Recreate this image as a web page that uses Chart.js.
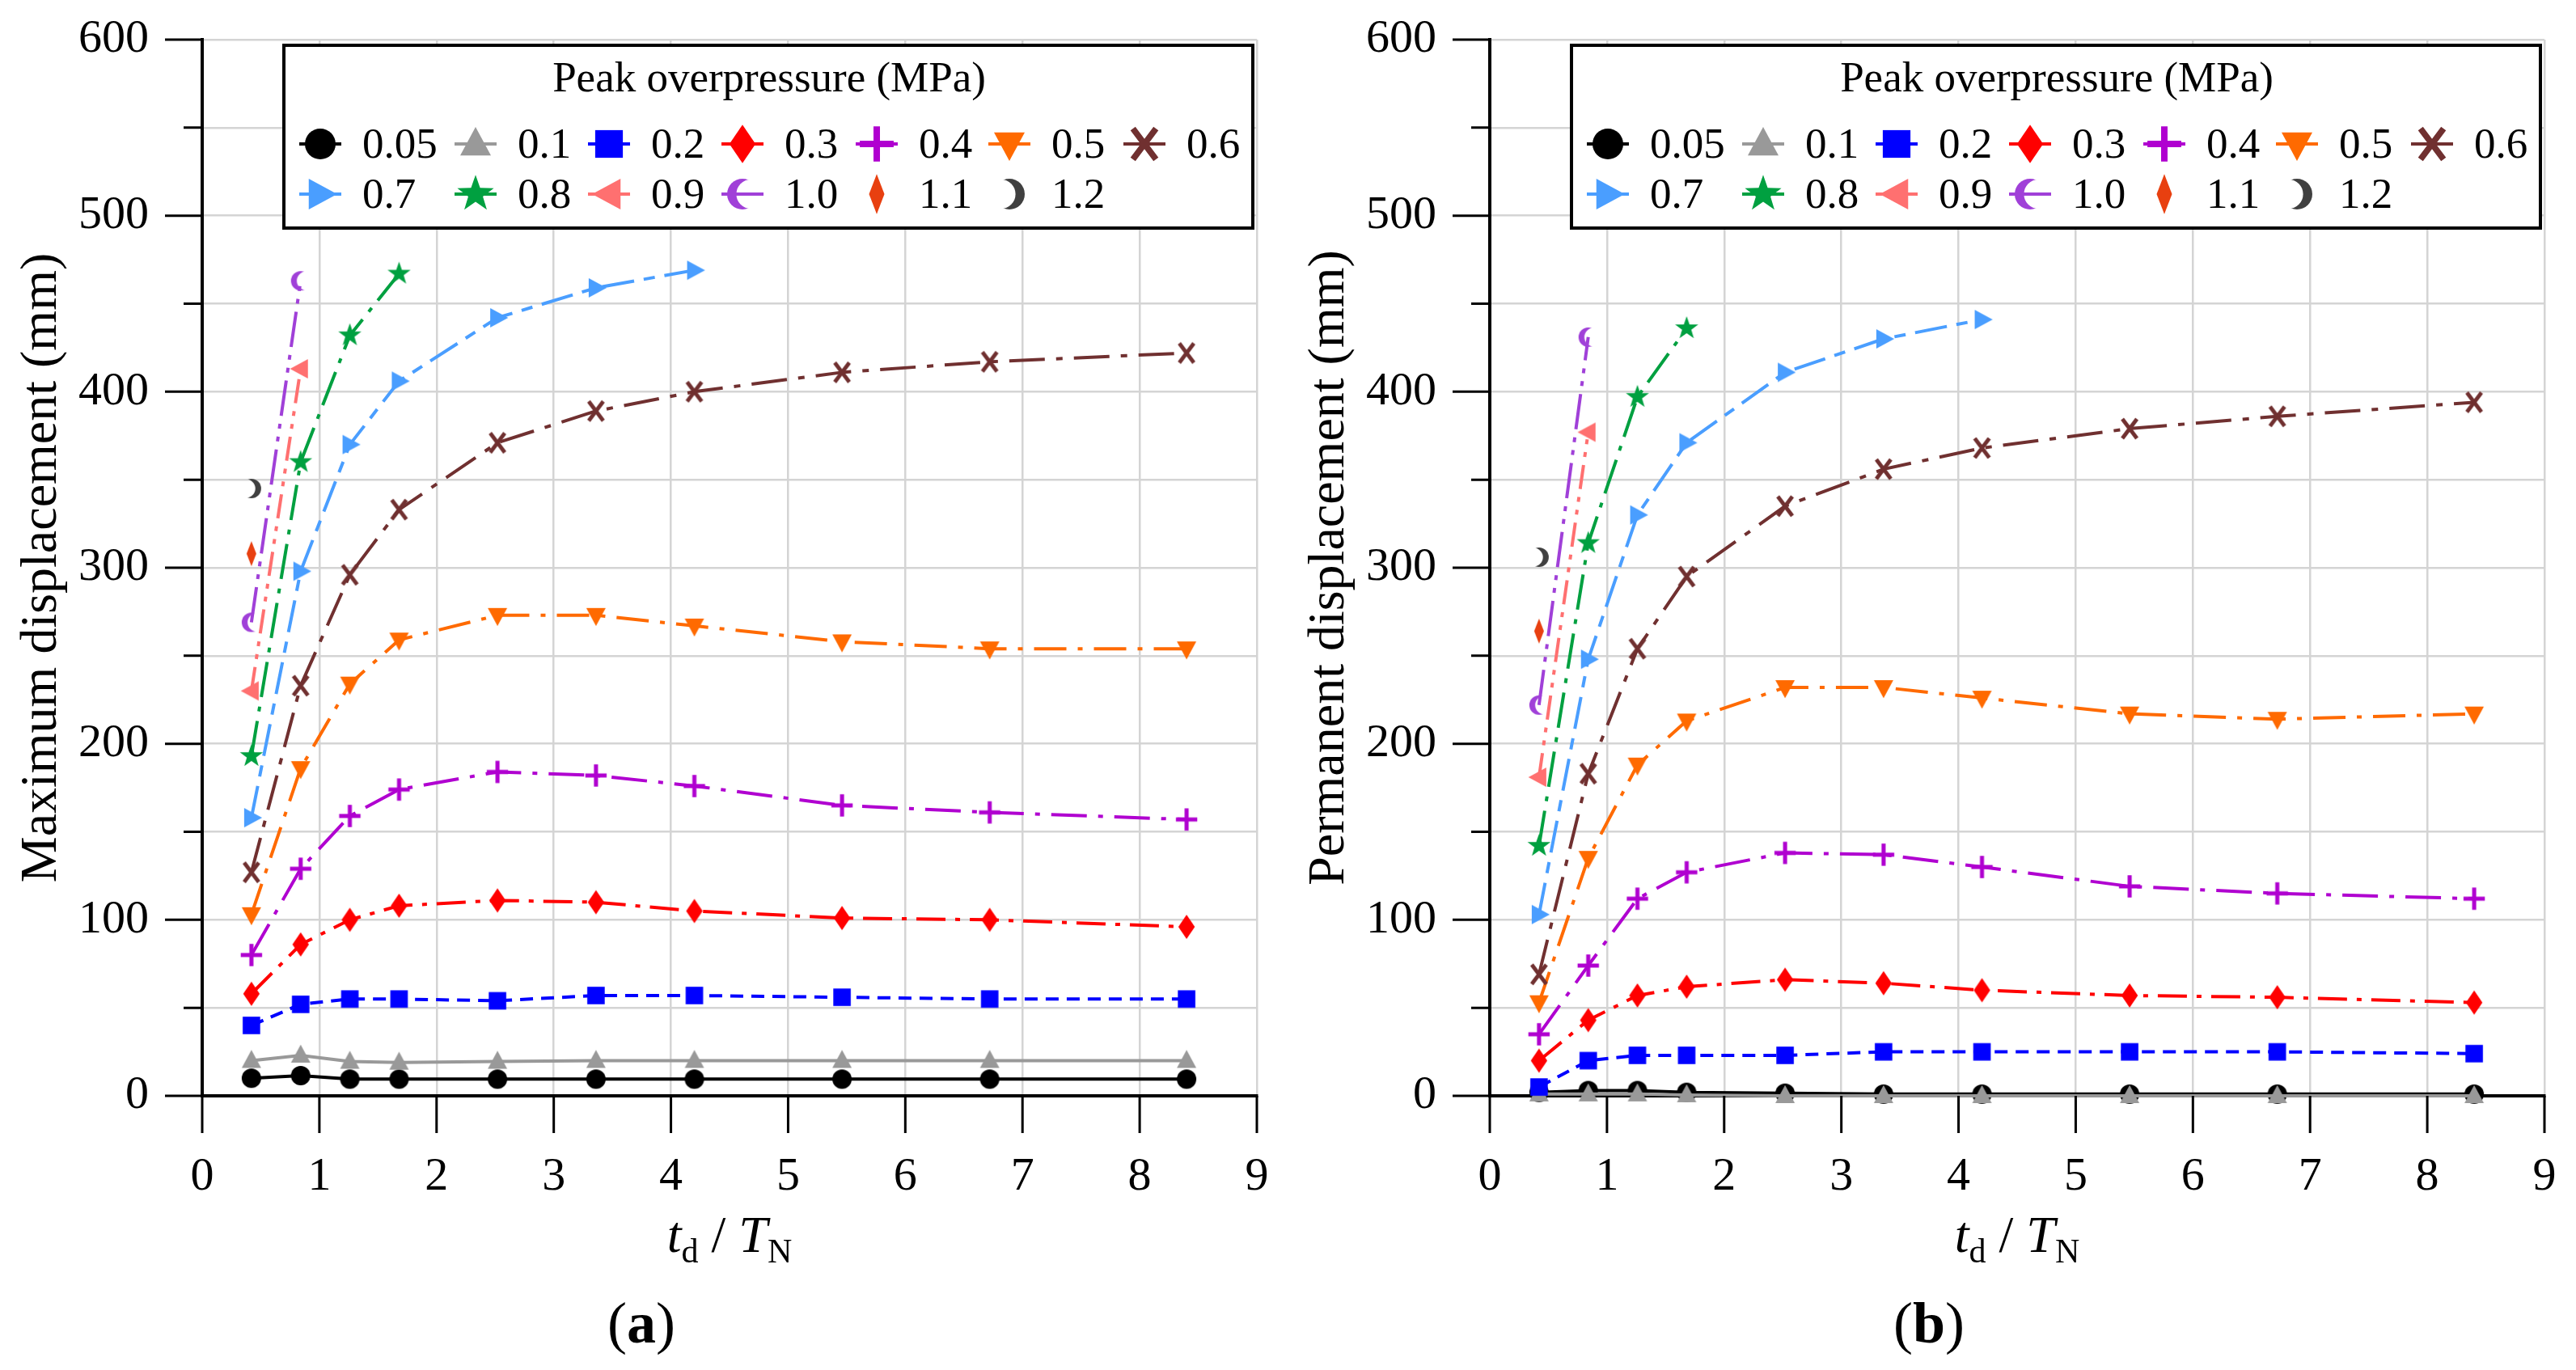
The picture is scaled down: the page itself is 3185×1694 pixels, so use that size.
<!DOCTYPE html>
<html>
<head>
<meta charset="utf-8">
<script src="https://cdn.jsdelivr.net/npm/chart.js@4"></script>
<style>
html, body { margin: 0; padding: 0; background: #fff; }
#wrap { position: relative; width: 3185px; height: 1694px; }
canvas { position: absolute; top: 0; }
</style>
</head>
<body>
<div id="wrap">
  <canvas id="chartA" width="1592" height="1694" style="left:0"></canvas>
  <canvas id="chartB" width="1593" height="1694" style="left:1592px"></canvas>
</div>
<script>
// td / TN values shared by every series
const tdTN = [0.42, 0.84, 1.26, 1.68, 2.52, 3.36, 4.2, 5.46, 6.72, 8.4];
const pressures = ['0.05', '0.1', '0.2', '0.3', '0.4', '0.5', '0.6', '0.7', '0.8', '0.9', '1.0', '1.1', '1.2'];

// (a) maximum displacement, mm
const max005 = [10, 11.5, 9.5, 9.5, 9.5, 9.5, 9.5, 9.5, 9.5, 9.5];
const max01 = [20, 23, 19.5, 19, 19.5, 20, 20, 20, 20, 20];
const max02 = [40, 52, 55, 55, 54, 57, 57, 56, 55, 55];
const max03 = [58, 86, 100, 108, 111, 110, 105, 101, 100, 96];
const max04 = [80, 129, 159, 174, 184, 182, 176, 165, 161, 157];
const max05 = [103, 186, 234, 259, 273, 273, 267, 258, 254, 254];
const max06 = [127, 233, 296, 333, 371, 389, 400, 411, 417, 422];
const max07 = [158, 298, 370, 406, 442, 459, 469];
const max08 = [193, 360, 432, 467];
const max09 = [230, 413];
const max10 = [269, 463];
const max11 = [308];
const max12 = [345];

// (b) permanent displacement, mm
const perm005 = [2, 3, 3, 2, 1.5, 1, 1, 1, 1, 1];
const perm01 = [1, 1, 1, 0.5, 0, 0, 0, 0, 0, 0];
const perm02 = [5, 20, 23, 23, 23, 25, 25, 25, 25, 24];
const perm03 = [20, 43, 57, 62, 66, 64, 60, 57, 56, 53];
const perm04 = [35, 74, 112, 127, 138, 137, 130, 119, 115, 112];
const perm05 = [53, 135, 188, 213, 232, 232, 226, 217, 214, 217];
const perm06 = [69, 183, 254, 295, 335, 356, 368, 379, 386, 394];
const perm07 = [103, 248, 330, 371, 411, 430, 441];
const perm08 = [142, 314, 397, 436];
const perm09 = [181, 377];
const perm10 = [222, 431];
const perm11 = [264];
const perm12 = [306];

const colors = ['#000000', '#999999', '#0000ff', '#ff0000', '#b000d0', '#ff6a00', '#703030',
                '#4a9eff', '#00a040', '#ff7070', '#a040d8', '#e84010', '#404040'];
const shapes = ['circle', 'triUp', 'square', 'diamond', 'plus', 'triDown', 'cross',
                'triRight', 'star', 'triLeft', 'arcL', 'thinDiamond', 'arcR'];
const dashes = [[], [], [16, 10], [36, 12, 6, 12], [44, 14, 6, 14], [40, 14, 6, 14], [44, 14, 8, 14],
                [40, 12, 14, 12], [44, 12, 6, 12], [30, 10, 6, 10, 6, 10], [44, 10, 6, 10, 6, 10], [], []];

const FONT = '"Liberation Serif", "Times New Roman", serif';
Chart.defaults.font.family = FONT;
Chart.defaults.color = '#000';

// marker sprites (Chart.js built-ins lack filled star, crescents etc.)
function icon(shape, color, r) {
  const s = Math.ceil(r * 2.8) + 4;
  const c = document.createElement('canvas');
  c.width = c.height = s;
  const g = c.getContext('2d');
  g.translate(s / 2, s / 2);
  g.fillStyle = color;
  g.strokeStyle = color;
  const poly = pts => {
    g.beginPath();
    pts.forEach(([a, b], k) => k ? g.lineTo(a * r, b * r) : g.moveTo(a * r, b * r));
    g.closePath();
    g.fill();
  };
  switch (shape) {
    case 'circle': g.beginPath(); g.arc(0, 0, r, 0, Math.PI * 2); g.fill(); break;
    case 'triUp': poly([[0, -1.1], [1, 0.75], [-1, 0.75]]); break;
    case 'triDown': poly([[0, 1.1], [1, -0.75], [-1, -0.75]]); break;
    case 'triRight': poly([[1.1, 0], [-0.75, -1], [-0.75, 1]]); break;
    case 'triLeft': poly([[-1.1, 0], [0.75, -1], [0.75, 1]]); break;
    case 'square': g.fillRect(-0.9 * r, -0.9 * r, 1.8 * r, 1.8 * r); break;
    case 'diamond': poly([[0, -1.25], [0.85, 0], [0, 1.25], [-0.85, 0]]); break;
    case 'thinDiamond': poly([[0, -1.3], [0.5, 0], [0, 1.3], [-0.5, 0]]); break;
    case 'plus':
      g.lineWidth = 0.42 * r;
      g.beginPath();
      g.moveTo(-1.1 * r, 0); g.lineTo(1.1 * r, 0);
      g.moveTo(0, -1.15 * r); g.lineTo(0, 1.15 * r);
      g.stroke();
      break;
    case 'cross':
      g.lineWidth = 0.4 * r;
      g.beginPath();
      g.moveTo(-0.75 * r, -r); g.lineTo(0.75 * r, r);
      g.moveTo(0.75 * r, -r); g.lineTo(-0.75 * r, r);
      g.stroke();
      break;
    case 'star': {
      const p = [];
      for (let k = 0; k < 10; k++) {
        const a = -Math.PI / 2 + k * Math.PI / 5;
        const rr = k % 2 ? 0.5 : 1.25;
        p.push([rr * Math.cos(a), rr * Math.sin(a)]);
      }
      poly(p);
      break;
    }
    case 'arcL':
    case 'arcR': {
      const d = shape === 'arcL' ? 1 : -1;
      g.beginPath(); g.arc(0, 0, r, 0, Math.PI * 2); g.fill();
      g.globalCompositeOperation = 'destination-out';
      g.beginPath(); g.arc(d * 0.55 * r, 0, 0.95 * r, 0, Math.PI * 2); g.fill();
      break;
    }
  }
  return c;
}

function makeDatasets(list) {
  return list.map((vals, i) => ({
    label: pressures[i],
    data: vals.map((v, k) => ({ x: tdTN[k], y: v })),
    borderColor: colors[i],
    backgroundColor: colors[i],
    borderWidth: 4,
    borderDash: dashes[i],
    pointStyle: icon(shapes[i], colors[i], 12),
    pointRadius: 12,
    legendIcon: icon(shapes[i], colors[i], 19),
    clip: false,
    order: list.length - i
  }));
}

// extra drawing: tick marks, axis titles, panel tag, boxed legend
const deco = {
  id: 'deco',
  afterDraw(chart, args, o) {
    const { ctx, chartArea: ca } = chart;
    const xs = chart.scales.x, ys = chart.scales.y;
    ctx.save();
    ctx.setLineDash([]);
    ctx.strokeStyle = '#000';
    ctx.lineWidth = 3;
    ctx.beginPath();
    ys.ticks.forEach(t => {
      const py = ys.getPixelForValue(t.value);
      const len = t.value % 100 === 0 ? 46 : 23;
      ctx.moveTo(ca.left - len, py); ctx.lineTo(ca.left, py);
    });
    xs.ticks.forEach(t => {
      const px = xs.getPixelForValue(t.value);
      ctx.moveTo(px, ca.bottom); ctx.lineTo(px, ca.bottom + 46);
    });
    ctx.stroke();

    ctx.fillStyle = '#000';
    // y title
    ctx.font = '64px ' + FONT;
    ctx.textAlign = 'center';
    ctx.textBaseline = 'middle';
    ctx.save();
    ctx.translate(o.yTitleX, (ca.top + ca.bottom) / 2);
    ctx.rotate(-Math.PI / 2);
    ctx.fillText(o.yTitle, 0, 0);
    ctx.restore();

    // x title: t_d / T_N
    const parts = [
      ['t', 'italic 64px ' + FONT, 0],
      ['d', '42px ' + FONT, 13],
      [' / ', '64px ' + FONT, 0],
      ['T', 'italic 64px ' + FONT, 0],
      ['N', '42px ' + FONT, 13]
    ];
    ctx.textAlign = 'left';
    ctx.textBaseline = 'alphabetic';
    let total = 0;
    parts.forEach(p => { ctx.font = p[1]; total += ctx.measureText(p[0]).width; });
    let px = (ca.left + ca.right) / 2 - total / 2;
    parts.forEach(p => { ctx.font = p[1]; ctx.fillText(p[0], px, ca.bottom + 193 + p[2]); px += ctx.measureText(p[0]).width; });

    // panel tag (a)/(b)
    const tag = [['(', '72px ' + FONT], [o.tag, 'bold 72px ' + FONT], [')', '72px ' + FONT]];
    total = 0;
    tag.forEach(p => { ctx.font = p[1]; total += ctx.measureText(p[0]).width; });
    px = ca.left + 543 - total / 2;
    tag.forEach(p => { ctx.font = p[1]; ctx.fillText(p[0], px, ca.bottom + 305); px += ctx.measureText(p[0]).width; });

    // legend box
    const L = ca.left + 101, T = ca.top + 7, R = ca.right - 5, B = ca.top + 233;
    ctx.fillStyle = '#fff';
    ctx.fillRect(L, T, R - L, B - T);
    ctx.lineWidth = 4;
    ctx.strokeStyle = '#000';
    ctx.strokeRect(L, T, R - L, B - T);
    ctx.fillStyle = '#000';
    ctx.font = '53px ' + FONT;
    ctx.textAlign = 'center';
    ctx.fillText('Peak overpressure (MPa)', ca.left + 701, ca.top + 64);
    ctx.textAlign = 'left';
    const cols = [146, 338, 503, 668, 834, 998, 1165];
    const rows = [129, 191];
    chart.data.datasets.forEach((ds, i) => {
      const cx = ca.left + cols[i % 7];
      const cy = ca.top + rows[Math.floor(i / 7)];
      if (ds.data.length > 1) {
        ctx.strokeStyle = ds.borderColor;
        ctx.lineWidth = 4;
        ctx.beginPath(); ctx.moveTo(cx - 26, cy); ctx.lineTo(cx + 26, cy); ctx.stroke();
      }
      const ic = ds.legendIcon;
      ctx.drawImage(ic, cx - ic.width / 2, cy - ic.height / 2);
      ctx.fillStyle = '#000';
      ctx.fillText(ds.label, cx + 52, cy + 17);
    });
    ctx.restore();
  }
};

// keep the plot box fixed: drop the label overhang paddings Chart.js adds
function noPad(s) {
  s.paddingTop = 0; s.paddingBottom = 0; s.paddingLeft = 0; s.paddingRight = 0;
}

function makeChart(id, lists, yTitle, tag, rightPad) {
  return new Chart(document.getElementById(id), {
    type: 'line',
    data: { datasets: makeDatasets(lists) },
    options: {
      responsive: false,
      animation: false,
      events: [],
      layout: { padding: { top: 49, right: rightPad, left: 0, bottom: 0 } },
      plugins: {
        legend: { display: false },
        tooltip: { enabled: false },
        deco: { yTitle: yTitle, tag: tag, yTitleX: 52 }
      },
      scales: {
        x: {
          type: 'linear',
          min: 0, max: 9,
          ticks: { stepSize: 1, padding: 66, font: { size: 58 } },
          grid: { color: '#d4d4d4', lineWidth: 2.5, drawTicks: false },
          border: { color: '#000', width: 4 },
          afterFit: s => { s.height = 339; noPad(s); }
        },
        y: {
          min: 0, max: 600,
          ticks: {
            stepSize: 50, padding: 66, font: { size: 58 },
            callback: v => v % 100 === 0 ? v : ''
          },
          grid: { color: '#d4d4d4', lineWidth: 2.5, drawTicks: false },
          border: { color: '#000', width: 4 },
          afterFit: s => { s.width = 250; noPad(s); }
        }
      }
    },
    plugins: [deco]
  });
}

makeChart('chartA',
  [max005, max01, max02, max03, max04, max05, max06, max07, max08, max09, max10, max11, max12],
  'Maximum displacement (mm)', 'a', 38);
makeChart('chartB',
  [perm005, perm01, perm02, perm03, perm04, perm05, perm06, perm07, perm08, perm09, perm10, perm11, perm12],
  'Permanent displacement (mm)', 'b', 39);
</script>
</body>
</html>
